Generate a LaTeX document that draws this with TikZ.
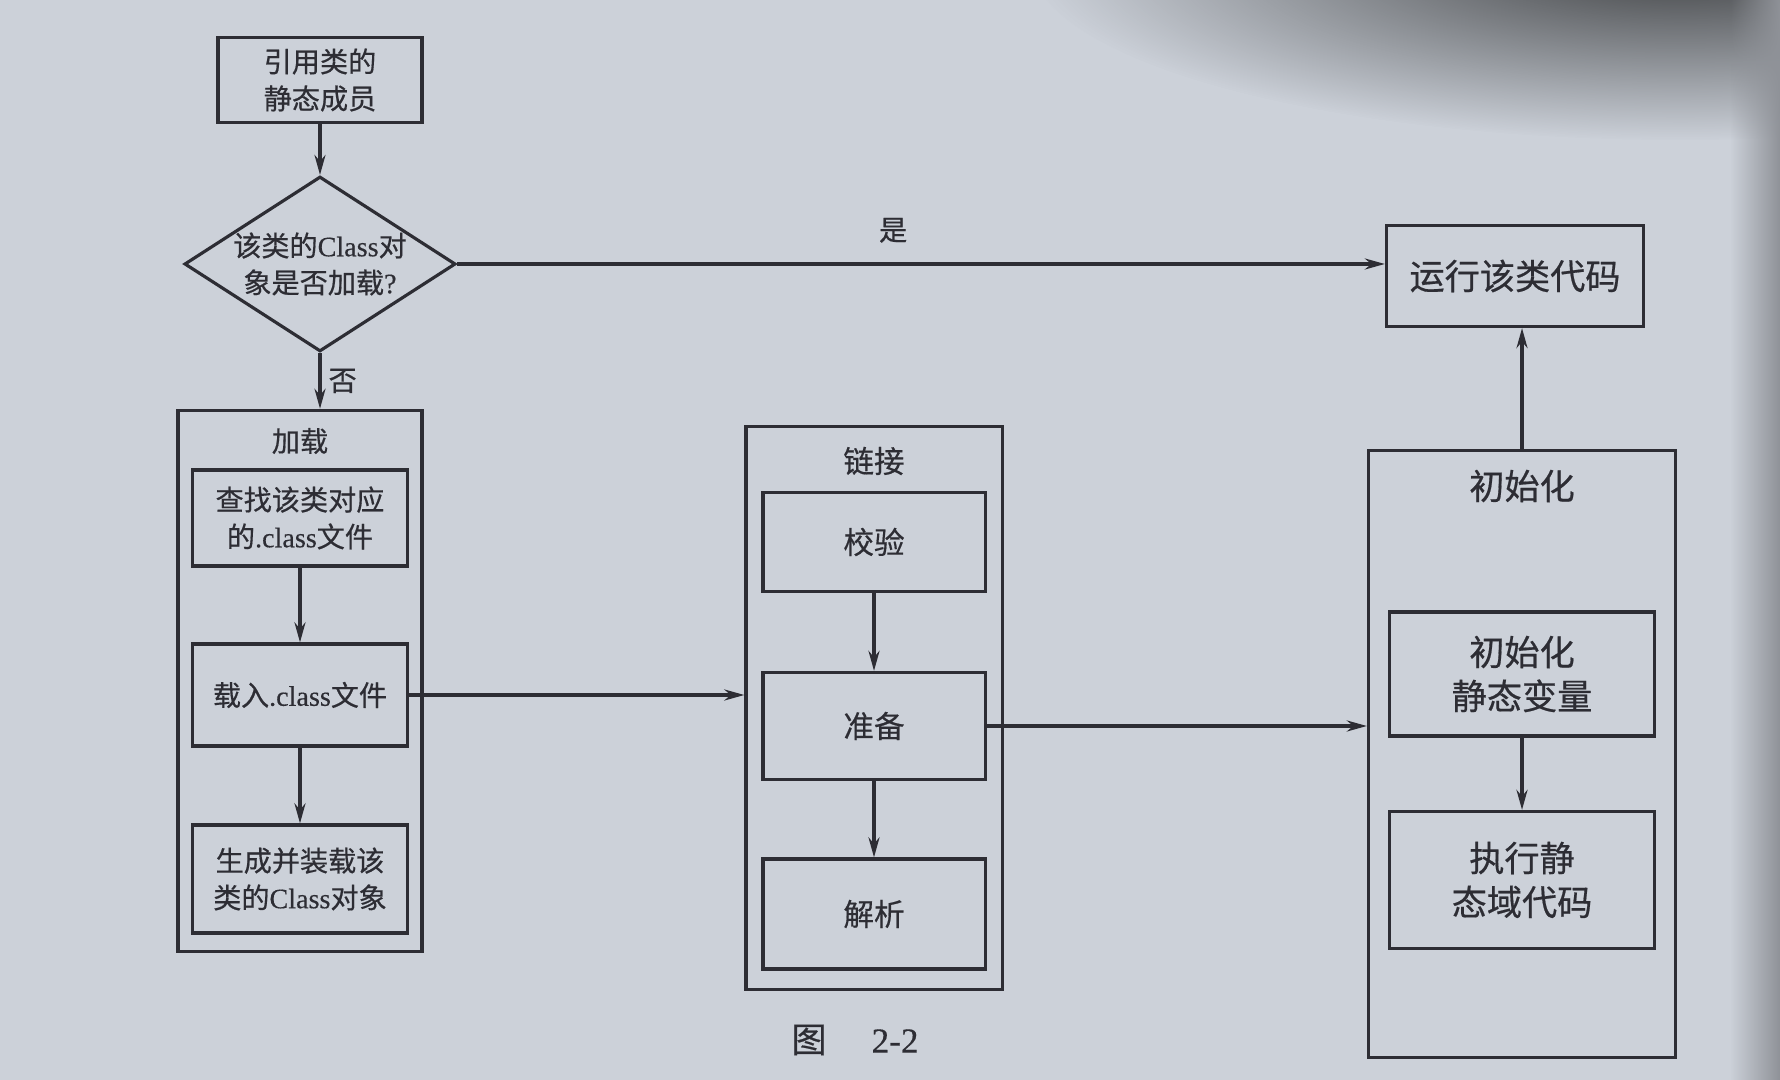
\documentclass[tikz,border=0pt]{standalone}
\usepackage{fontspec}
\setmainfont{Noto Sans CJK SC}[FakeBold=0.5]
\newfontfamily\lat{Liberation Serif}[FakeBold=0.4]
\newcommand\en[1]{{\lat #1}}
\usetikzlibrary{arrows.meta,shapes.geometric,fadings}
\definecolor{paper}{RGB}{204,209,217}
\definecolor{ink}{RGB}{45,45,52}
\tikzfading[name=cornerfade, inner color=transparent!0, outer color=transparent!100]

\begin{document}
\begin{tikzpicture}[x=0.01cm,y=-0.01cm,>={Stealth[length=2mm,width=1.1mm]},
  color=ink,line width=0.9pt,
  small/.style={font=\fontsize{8}{10.5}\selectfont},
  mid/.style={font=\fontsize{8.7}{11.5}\selectfont},
  large/.style={font=\fontsize{10}{12.5}\selectfont},
  box/.style={draw,rectangle,inner sep=0pt,align=center},
  group/.style={draw,rectangle,inner sep=0pt},
  decision/.style={draw,diamond,aspect=1.55,inner sep=0pt,align=center,
    minimum width=2.67cm,minimum height=1.73cm}]
  \useasboundingbox (0,0) rectangle (1780,1080);
  \clip (0,0) rectangle (1780,1080);
  \fill[paper] (0,0) rectangle (1780,1080);
  % page shadow
  \fill[black!70!paper,path fading=cornerfade] (1680,-40) ellipse [x radius=6.5cm,y radius=1.8cm];
  \fill[black!30!paper,path fading=west] (1730,0) rectangle (1780,1080);

  \node[box,small,minimum width=2.04cm,minimum height=0.85cm] (ref) at (320,80) {引用类的\\静态成员};
  \node[decision,small] (check) at (320,264) {该类的\en{Class}对\\象是否加载\en{?}};
  \node[box,large,minimum width=2.57cm,minimum height=1.01cm] (run) at (1515,276) {运行该类代码};

  % loading
  \node[group,minimum width=2.44cm,minimum height=5.41cm] (load) at (300,681) {};
  \node[small] (loadtitle) at (300,441) {加载};
  \node[box,small,minimum width=2.15cm,minimum height=0.96cm] (find) at (300,518) {查找该类对应\\的\en{.class}文件};
  \node[box,small,minimum width=2.15cm,minimum height=1.02cm] (read) at (300,695) {载入\en{.class}文件};
  \node[box,small,minimum width=2.15cm,minimum height=1.08cm] (gen) at (300,879) {生成并装载该\\类的\en{Class}对象};

  % linking
  \node[group,minimum width=2.56cm,minimum height=5.63cm] (link) at (874,708) {};
  \node[mid] (linktitle) at (874,461) {链接};
  \node[box,mid,minimum width=2.22cm,minimum height=0.99cm] (verify) at (874,542) {校验};
  \node[box,mid,minimum width=2.22cm,minimum height=1.07cm] (prep) at (874,726) {准备};
  \node[box,mid,minimum width=2.22cm,minimum height=1.10cm] (parse) at (874,914) {解析};

  % initialising
  \node[group,minimum width=3.07cm,minimum height=6.07cm] (init) at (1522,754) {};
  \node[large] (inittitle) at (1522,486) {初始化};
  \node[box,large,minimum width=2.65cm,minimum height=1.24cm] (initvar) at (1522,674) {初始化\\静态变量};
  \node[box,large,minimum width=2.65cm,minimum height=1.37cm] (exec) at (1522,880) {执行静\\态域代码};

  \draw[->] (ref) -- (check);
  \draw[->] (check.east) -- (check.east -| run.west) node[small,pos=0.47,above=0.8mm] (yes) {是};
  \draw[->] (check.south) -- (check.south |- load.north) node[small,midway,right,inner sep=2pt] (no) {否};
  \draw[->] (find) -- (read);
  \draw[->] (read) -- (gen);
  \draw[->] (read.east) -- (read.east -| link.west);
  \draw[->] (verify) -- (prep);
  \draw[->] (prep) -- (parse);
  \draw[->] (prep.east) -- (prep.east -| init.west);
  \draw[->] (initvar) -- (exec);
  \draw[->] (init.north) -- (init.north |- run.south);

  \node[font=\fontsize{10}{12}\selectfont] (caption) at (855,1040) {图\hspace{0.45cm}\en{2-2}};
\end{tikzpicture}
\end{document}
